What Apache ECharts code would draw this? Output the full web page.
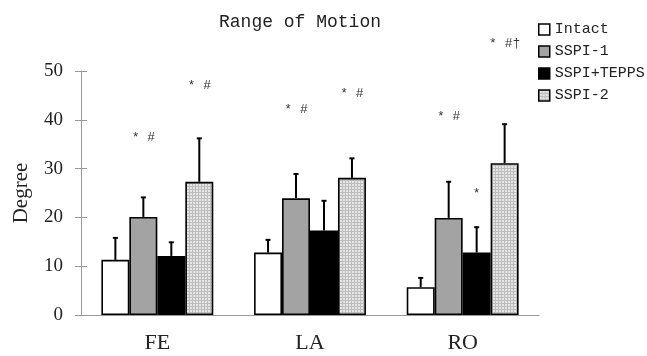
<!DOCTYPE html>
<html>
<head>
<meta charset="utf-8">
<script src="https://cdn.jsdelivr.net/npm/echarts@6/dist/echarts.min.js"></script>
<style>
  html, body { margin: 0; padding: 0; background: #fff; }
  #chart { width: 647px; height: 356px; }
</style>
</head>
<body>
<div id="chart"></div>
<script>
var categories = ['FE', 'LA', 'RO'];
var seriesNames = ['Intact', 'SSPI-1', 'SSPI+TEPPS', 'SSPI-2'];

var intactMean = [11.3, 12.8, 5.7];
var intactSD = [4.5, 2.6, 1.9];
var sspi1Mean = [20.1, 23.9, 19.9];
var sspi1SD = [4.0, 5.0, 7.4];
var teppsMean = [12.1, 17.3, 12.8];
var teppsSD = [2.8, 6.1, 5.2];
var sspi2Mean = [27.3, 28.1, 31.1];
var sspi2SD = [8.9, 4.0, 8.0];

var yTicks = [0, 10, 20, 30, 40, 50];

// significance marks: text, category, bar index, height on value scale
var annoText = ['* #', '* #', '* #', '* #', '* #', '*', '* #\u2020'];
var annoCat = [0, 0, 1, 1, 2, 2, 2];
var annoBar = [1, 3, 1, 3, 1, 2, 3];
var annoLevel = [36.3, 47.1, 42.0, 45.3, 40.6, 24.8, 55.7];

var means = [intactMean, sspi1Mean, teppsMean, sspi2Mean];
var sds = [intactSD, sspi1SD, teppsSD, sspi2SD];

var gapRatio = 0.267;

// fine dotted fill for SSPI-2
var pat = document.createElement('canvas');
pat.width = 3; pat.height = 3;
var pctx = pat.getContext('2d');
pctx.fillStyle = '#e6e6e6';
pctx.fillRect(0, 0, 3, 3);
pctx.fillStyle = '#bdbdbd';
pctx.fillRect(0, 0, 3, 1);
pctx.fillRect(0, 0, 1, 3);

var fills = ['#ffffff', '#a3a3a3', '#000000', { image: pat, repeat: 'repeat' }];

var chart = echarts.init(document.getElementById('chart'));

function barX(api, cat, idx) {
  var c = api.coord([cat, 0]);
  var band = api.size([1, 0])[0];
  var grp = band * (1 - gapRatio);
  var bw = grp / 4;
  return c[0] - grp / 2 + bw * (idx + 0.5);
}

var errData = [];
for (var s = 0; s < 4; s++) {
  for (var c = 0; c < categories.length; c++) {
    errData.push([c, s, means[s][c], means[s][c] + sds[s][c]]);
  }
}
var annoData = [];
for (var a = 0; a < annoText.length; a++) {
  annoData.push([annoCat[a], annoBar[a], annoLevel[a], a]);
}

var series = [];
for (var i = 0; i < 4; i++) {
  series.push({
    name: seriesNames[i],
    type: 'bar',
    data: means[i],
    barGap: '0%',
    barCategoryGap: (gapRatio * 100) + '%',
    itemStyle: { color: fills[i], borderColor: '#000', borderWidth: 1.6 },
    emphasis: { disabled: true }
  });
}
series.push({
  type: 'custom',
  z: 5,
  data: errData,
  renderItem: function (params, api) {
    var x = barX(api, api.value(0), api.value(1));
    var y0 = api.coord([api.value(0), api.value(2)])[1];
    var y1 = api.coord([api.value(0), api.value(3)])[1];
    return {
      type: 'group',
      children: [
        { type: 'line', shape: { x1: x, y1: y0, x2: x, y2: y1 }, style: { stroke: '#000', lineWidth: 2 } },
        { type: 'line', shape: { x1: x - 2.5, y1: y1, x2: x + 2.5, y2: y1 }, style: { stroke: '#000', lineWidth: 2 } }
      ]
    };
  }
});
series.push({
  type: 'custom',
  z: 6,
  clip: false,
  data: annoData,
  renderItem: function (params, api) {
    var x = barX(api, api.value(0), api.value(1));
    var y = api.coord([api.value(0), api.value(2)])[1];
    return {
      type: 'text',
      x: x, y: y,
      style: {
        text: annoText[api.value(3)],
        fill: '#333',
        font: '13px "Liberation Mono"',
        align: 'center',
        verticalAlign: 'middle'
      }
    };
  }
});

var option = {
  animation: false,
  title: {
    text: 'Range of Motion',
    left: 214,
    top: 8,
    textStyle: { fontFamily: 'Liberation Mono', fontWeight: 'normal', fontSize: 18, color: '#222' }
  },
  legend: {
    orient: 'vertical',
    left: 533,
    top: 16,
    itemWidth: 11,
    itemHeight: 11,
    itemGap: 5,
    icon: 'rect',
    data: seriesNames,
    itemStyle: { borderColor: '#000', borderWidth: 1.5 },
    textStyle: { fontFamily: 'Liberation Mono', fontSize: 15, color: '#222', lineHeight: 17 }
  },
  grid: { left: 81, right: 108, top: 71, bottom: 41, outerBoundsMode: 'none' },
  xAxis: [
    {
      type: 'category',
      data: categories,
      axisLine: { lineStyle: { color: '#999', width: 1 } },
      axisTick: { length: 5, lineStyle: { color: '#999' } },
      axisLabel: { margin: 17, fontFamily: 'Liberation Serif', fontSize: 22, color: '#222' }
    },
    {
      type: 'category',
      data: categories,
      position: 'bottom',
      axisLine: { show: false },
      axisTick: { inside: true, length: 5, lineStyle: { color: '#999' } },
      axisLabel: { show: false }
    }
  ],
  yAxis: [
    {
      type: 'value',
      min: yTicks[0],
      max: yTicks[yTicks.length - 1],
      interval: 10,
      name: 'Degree',
      nameLocation: 'middle',
      nameGap: 49,
      nameTextStyle: { fontFamily: 'Liberation Serif', fontSize: 21, color: '#222' },
      axisLine: { show: true, lineStyle: { color: '#999', width: 1 } },
      axisTick: { show: true, length: 6, lineStyle: { color: '#999' } },
      axisLabel: { margin: 18, fontFamily: 'Liberation Serif', fontSize: 19, color: '#222' },
      splitLine: { show: false }
    },
    {
      type: 'value',
      min: yTicks[0],
      max: yTicks[yTicks.length - 1],
      interval: 10,
      position: 'left',
      axisLine: { show: false },
      axisTick: { show: true, inside: true, length: 6, lineStyle: { color: '#999' } },
      axisLabel: { show: false },
      splitLine: { show: false }
    }
  ],
  series: series
};

chart.setOption(option);
</script>
</body>
</html>
